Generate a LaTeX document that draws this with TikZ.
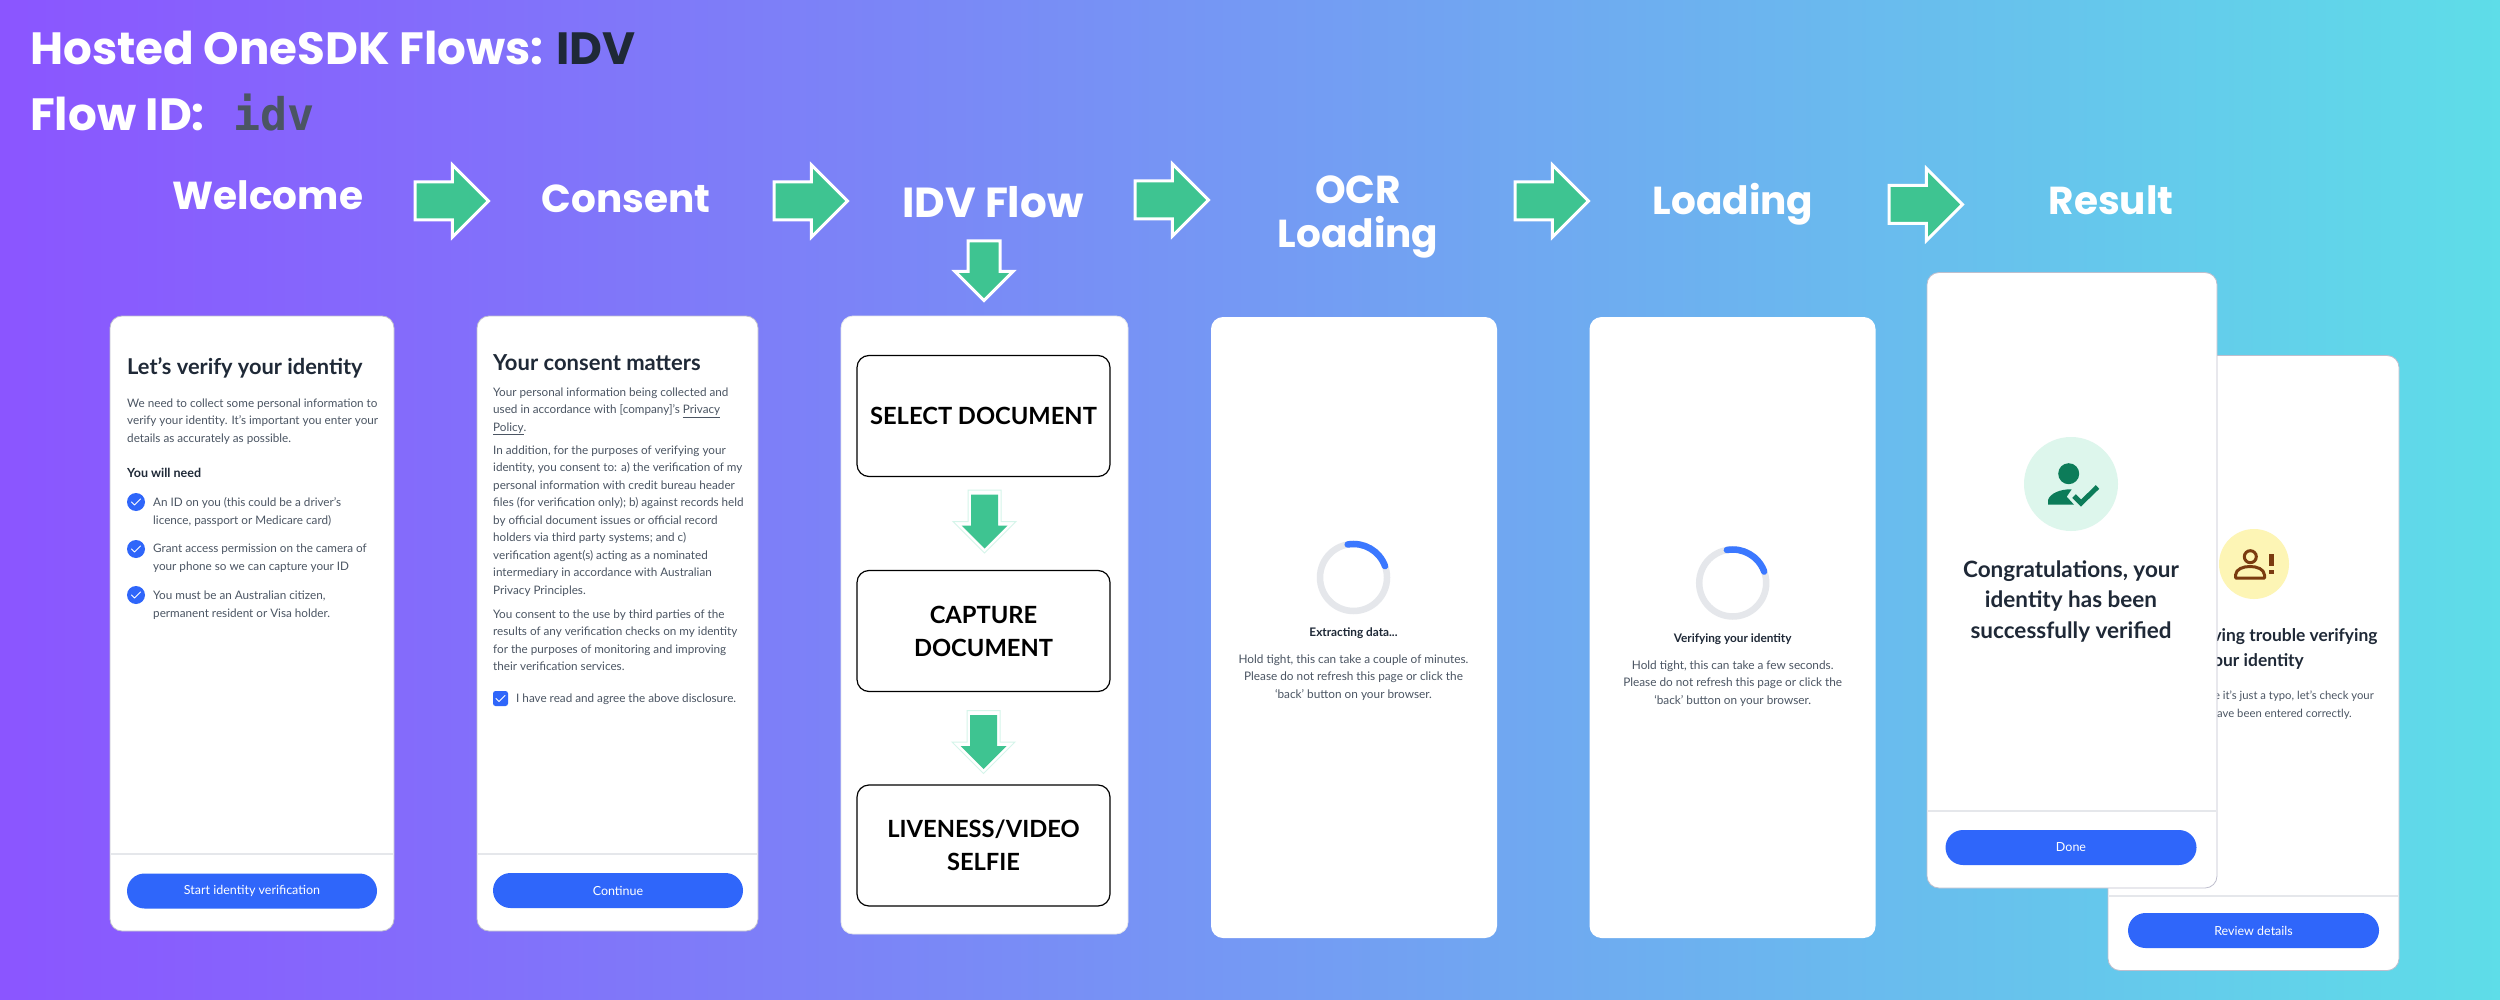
\documentclass[tikz,border=0pt]{standalone}
\usepackage{fontspec}
\usepackage{xcolor}
\usetikzlibrary{shapes.arrows}
\setmainfont{Lato}
\newfontfamily\headfont{Poppins}
\newfontfamily\codefont{DejaVu Sans Mono}
\definecolor{bgleft}{RGB}{139,85,255}
\definecolor{bgright}{RGB}{94,221,232}
\definecolor{arrowgreen}{RGB}{62,196,145}
\definecolor{arrowhalo}{RGB}{213,245,234}
\definecolor{inkdark}{RGB}{31,41,55}
\definecolor{inkbody}{RGB}{75,85,99}
\definecolor{btnblue}{RGB}{47,102,250}
\definecolor{spinblue}{RGB}{59,120,255}
\definecolor{rulegray}{RGB}{229,231,235}
\definecolor{edgegray}{RGB}{190,190,205}
\definecolor{okmint}{RGB}{221,246,236}
\definecolor{okgreen}{RGB}{12,124,89}
\definecolor{warnyellow}{RGB}{253,245,181}
\definecolor{warnbrown}{RGB}{122,59,16}
\tikzset{
  titletext/.style={text=white,inner sep=0,font=\headfont\bfseries\fontsize{45.2}{46}\selectfont},
  stepname/.style={text=white,inner sep=0,align=center,anchor=base,font=\headfont\bfseries\fontsize{39}{44}\selectfont},
  flowarrow/.style={single arrow,single arrow tip angle=90,fill=arrowgreen,draw=white,line width=3,
    inner sep=17.5,single arrow head extend=17,minimum height=73.4,anchor=tail},
  downarrow/.style={flowarrow,shape border rotate=270,inner sep=14.5,single arrow head extend=13,minimum height=59.4},
  haloarrow/.style={downarrow,fill=white,draw=arrowhalo,line width=1,inner sep=16,single arrow head extend=15,minimum height=63},
  cellarrow/.style={downarrow,draw=none,inner sep=12,single arrow head extend=9.5,minimum height=54},
  card/.style={fill=white,draw=edgegray,line width=0.8,rounded corners=12},
  plaincard/.style={fill=white,rounded corners=12},
  divider/.style={draw=rulegray,line width=2},
  btn/.style={fill=btnblue,text=white,rounded corners=17.5,minimum height=35,inner sep=0,font=\fontsize{12.5}{15}\selectfont},
  cardhead/.style={text=inkdark,inner sep=0,anchor=base west,font=\bfseries\fontsize{21.8}{30}\selectfont},
  bodytext/.style={text=inkbody,inner sep=0,anchor=base west,align=left,font=\fontsize{11.7}{17.5}\selectfont},
  boldtext/.style={text=inkdark,inner sep=0,anchor=base west,font=\bfseries\fontsize{12.5}{17.5}\selectfont},
  tickdot/.style={circle,fill=btnblue,minimum size=18,inner sep=0},
  tickmark/.style={draw=white,line width=1,line cap=round,line join=round},
  stepbox/.style={draw=black,line width=1.2,rounded corners=12,fill=white,minimum width=253,minimum height=121,
    align=center,inner sep=0,font=\bfseries\fontsize{23.7}{33}\selectfont},
  spinring/.style={circle,draw=rulegray,line width=6.5,minimum size=67,inner sep=0},
  spinarc/.style={draw=spinblue,line width=6.5,line cap=round},
  waittitle/.style={text=inkdark,inner sep=0,anchor=base,font=\bfseries\fontsize{11.8}{17.5}\selectfont},
  waittext/.style={text=inkbody,inner sep=0,anchor=base,align=center,font=\fontsize{11.8}{17.5}\selectfont},
  troublehead/.style={cardhead,anchor=base east,font=\bfseries\fontsize{17.4}{26}\selectfont},
  troubletext/.style={bodytext,anchor=base east,font=\fontsize{11.3}{17.5}\selectfont},
}
\begin{document}
\begin{tikzpicture}[x=1pt,y=1pt]
\shade[left color=bgleft,right color=bgright] (0,0) rectangle (2500,-1000);
\useasboundingbox (0,0) rectangle (2500,-1000);
% heading
\node[titletext,anchor=base west] (flowtitle) at (30,-65) {Hosted OneSDK Flows: \textcolor{inkdark}{IDV}};
\node[titletext,anchor=base west] (flowid) at (30,-131) {Flow ID:};
\node[inner sep=0,anchor=base west,text=inkbody,font=\codefont\bfseries\fontsize{45}{46}\selectfont] (flowcode) at (233,-131) {idv};
% step names
\node[stepname] (welcome) at (268,-210) {Welcome};
\node[stepname] (consent) at (626,-213) {Consent};
\node[stepname,font=\headfont\bfseries\fontsize{42}{44}\selectfont] (idvflow) at (993,-218) {IDV Flow};
\node[stepname] (ocrload) at (1358,-248) {OCR\\Loading};
\node[stepname] (loading) at (1733,-215) {Loading};
\node[stepname] (result) at (2111,-215) {Result};
% arrows between the steps
\node[flowarrow] (arrowa) at (413.5,-201) {};
\node[flowarrow] (arrowb) at (772.5,-201) {};
\node[flowarrow] (arrowc) at (1133.5,-200) {};
\node[flowarrow] (arrowd) at (1513.5,-201) {};
\node[flowarrow] (arrowe) at (1887.5,-204.5) {};
\node[downarrow] (arrowf) at (984,-239.5) {};
% welcome card
\fill[card] (110,-316) rectangle (394,-931);
\draw[divider] (111,-854) -- (393,-854);
\node[cardhead] (welcomehead) at (127,-374) {Let's verify your identity};
\node[bodytext] (welcomebody) at (127,-442) {We need to collect some personal information to\\verify your identity. It’s important you enter your\\details as accurately as possible.};
\node[boldtext] (needhead) at (127,-477) {You will need};
\node[tickdot] (tickone) at (136,-502) {};
\draw[tickmark] (131.5,-502) -- (134.5,-505) -- (140.5,-499);
\node[bodytext] (needone) at (153,-524) {An ID on you (this could be a driver’s\\licence, passport or Medicare card)};
\node[tickdot] (ticktwo) at (136,-549) {};
\draw[tickmark] (131.5,-549) -- (134.5,-552) -- (140.5,-546);
\node[bodytext] (needtwo) at (153,-570) {Grant access permission on the camera of\\your phone so we can capture your ID};
\node[tickdot] (tickthree) at (136,-595) {};
\draw[tickmark] (131.5,-595) -- (134.5,-598) -- (140.5,-592);
\node[bodytext] (needthree) at (153,-617) {You must be an Australian citizen,\\permanent resident or Visa holder.};
\node[btn,minimum width=250] (startbtn) at (252,-891) {Start identity verification};
% consent card
\fill[card] (477,-316) rectangle (758,-931);
\draw[divider] (478,-854) -- (757,-854);
\node[cardhead,font=\bfseries\fontsize{22}{24}\selectfont] (consenthead) at (493,-370) {Your consent matters};
\node[bodytext] (consentone) at (493,-431) {Your personal information being collected and\\used in accordance with [company]’s \underline{Privacy}\\\underline{Policy}.};
\node[bodytext] (consenttwo) at (493,-594) {In addition, for the purposes of verifying your\\identity, you consent to: a) the verification of my\\personal information with credit bureau header\\files (for verification only); b) against records held\\by official document issues or official record\\holders via third party systems; and c)\\verification agent(s) acting as a nominated\\intermediary in accordance with Australian\\Privacy Principles.};
\node[bodytext] (consentthree) at (493,-670.5) {You consent to the use by third parties of the\\results of any verification checks on my identity\\for the purposes of monitoring and improving\\their verification services.};
\node[fill=btnblue,rounded corners=2.5,minimum size=15,inner sep=0] (agreebox) at (500.5,-698.5) {};
\draw[tickmark] (496,-698.5) -- (499,-701.5) -- (505,-695.5);
\node[bodytext] (agreetext) at (516,-702) {I have read and agree the above disclosure.};
\node[btn,minimum width=250] (continuebtn) at (618,-890.5) {Continue};
% idv flow card
\fill[card,draw=rulegray] (841,-316) rectangle (1128,-934);
\node[stepbox] (selectdoc) at (983.5,-416) {SELECT DOCUMENT};
\node[stepbox] (capturedoc) at (983.5,-631) {CAPTURE\\DOCUMENT};
\node[stepbox] (selfie) at (983.5,-845.5) {LIVENESS/VIDEO\\SELFIE};
\node[haloarrow] (haloa) at (984.5,-489.5) {};
\node[cellarrow] (cella) at (984.5,-493) {};
\node[haloarrow] (halob) at (983.5,-710) {};
\node[cellarrow] (cellb) at (983.5,-713.5) {};
% ocr loading card
\fill[plaincard] (1211,-317) rectangle (1497,-938);
\node[spinring] (spinone) at (1353.5,-577.5) {};
\draw[spinarc] ([shift={(100:33.5)}]spinone.center) arc[start angle=100,end angle=20,radius=33.5];
\node[waittitle] (extracting) at (1353.5,-636) {Extracting data...};
\node[waittext] (waitone) at (1353.5,-698) {Hold tight, this can take a couple of minutes.\\Please do not refresh this page or click the\\‘back’ button on your browser.};
% loading card
\fill[plaincard] (1589.5,-317) rectangle (1875.5,-938);
\node[spinring] (spintwo) at (1732.7,-583) {};
\draw[spinarc] ([shift={(100:33.5)}]spintwo.center) arc[start angle=100,end angle=20,radius=33.5];
\node[waittitle] (verifying) at (1732.7,-642) {Verifying your identity};
\node[waittext] (waittwo) at (1732.7,-704) {Hold tight, this can take a few seconds.\\Please do not refresh this page or click the\\‘back’ button on your browser.};
% result cards, the trouble one lies behind
\fill[card] (2108,-355.5) rectangle (2399,-970.5);
\draw[divider] (2109,-896) -- (2398,-896);
\node[circle,fill=warnyellow,minimum size=70,inner sep=0] (warncircle) at (2254,-564) {};
\draw[warnbrown,line width=3] (2250.3,-556.7) circle (6);
\draw[warnbrown,line width=3,line join=round] (2235.5,-578) -- (2235.5,-575) .. controls (2236,-569) and (2243,-566.5) .. (2250,-566.5) .. controls (2257,-566.5) and (2264,-569) .. (2264.5,-575) -- (2264.5,-578) -- cycle;
\fill[warnbrown] (2268.7,-554) rectangle (2273.7,-566);
\fill[warnbrown] (2268.7,-570) rectangle (2273.7,-573.5);
\node[troublehead] (troubleone) at (2377.7,-641) {ving trouble verifying};
\node[troublehead] (troubletwo) at (2304,-666) {our identity};
\node[troubletext] (typoone) at (2374,-699.5) {e it’s just a typo, let’s check your};
\node[troubletext] (typotwo) at (2352,-717) {ave been entered correctly.};
\node[btn,minimum width=251] (reviewbtn) at (2253.5,-930.5) {Review details};
\fill[card] (1927,-272.5) rectangle (2217,-888);
\draw[divider] (1928,-811) -- (2216,-811);
\node[circle,fill=okmint,minimum size=94,inner sep=0] (okcircle) at (2071,-484) {};
\fill[okgreen] (2068.7,-473.7) circle (10.5);
\fill[okgreen] (2048,-504.7) -- (2048,-500) .. controls (2050,-493.5) and (2060,-489) .. (2071.7,-489.3) -- (2066.7,-496.7) -- (2074,-504.7) -- cycle;
\draw[okgreen,line width=5] (2074,-496) -- (2081,-503) -- (2097.5,-487);
\node[cardhead,anchor=base,align=center,font=\bfseries\fontsize{22.5}{30.6}\selectfont] (congrats) at (2071,-638.3) {Congratulations, your\\identity has been\\successfully verified};
\node[btn,minimum width=251] (donebtn) at (2071,-847.5) {Done};
\end{tikzpicture}
\end{document}
